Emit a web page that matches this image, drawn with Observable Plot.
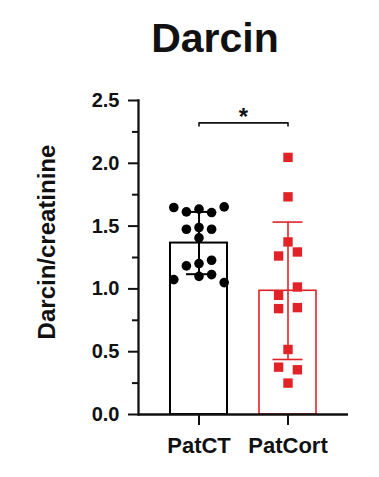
<!DOCTYPE html>
<html><head><meta charset="utf-8">
<script src="https://cdn.jsdelivr.net/npm/d3@7"></script>
<script src="https://cdn.jsdelivr.net/npm/@observablehq/plot@0.6"></script>
<style>
body{margin:0;background:#fff;font-family:"Liberation Sans",Arial,sans-serif;}
#title{height:52px;padding:18px 0 0 51px;font-size:41px;line-height:41px;font-weight:bold;text-align:center;color:#111;}
</style></head><body>
<div id="title">Darcin</div>
<div id="chart"></div>
<script>
// ---- data ----
const groups = ["PatCT", "PatCort"];
const barMeans = [1.365, 0.985];
const barSDs = [0.248, 0.547];
const patCTValues = [1.648, 1.613, 1.635, 1.608, 1.653, 1.475, 1.489, 1.475, 1.406,
                     1.183, 1.202, 1.228, 1.074, 1.100, 1.114, 1.050];
const patCTColumns = [-2, -1, 0, 1, 2, -1, 0, 1, 0, -1, 0, 1, -2, 0, 1, 2];
const patCortValues = [2.047, 1.733, 1.374, 1.262, 1.294, 1.015, 0.949, 0.843, 0.851,
                       0.518, 0.377, 0.356, 0.250];
const patCortColumns = [0, 0, 0, -1, 1, 1, -1, -1, 1, 0, -1, 1, 0];
const yTicks = [0, 0.5, 1, 1.5, 2, 2.5];
const yMinorTicks = [0.25, 0.75, 1.25, 1.75, 2.25];
const yLabel = "Darcin/creatinine";
const sigLabel = "*";
const bracketY = 2.322;
const bracketDrop = 0.025;

// ---- build tables ----
const summary = groups.map((g, i) => ({group: g, mean: barMeans[i], sd: barSDs[i]}));
const points = [
  ...patCTValues.map((v, i) => ({group: "PatCT", value: v, column: patCTColumns[i]})),
  ...patCortValues.map((v, i) => ({group: "PatCort", value: v, column: patCortColumns[i]}))
];
const look = {
  PatCT:   {color: "#000000", symbol: "circle", r: 4.8, spacing: 12.6, sw: 2.0, capInset: 16},
  PatCort: {color: "#e12328", symbol: "square", r: 5.3, spacing: 9.4, sw: 1.6, capInset: 13.5}
};

const marks = [
  Plot.axisY(yMinorTicks, {tickSize: 6, tickFormat: () => "", strokeWidth: 2, label: null}),
  Plot.axisY(yTicks, {tickSize: 10, tickPadding: 9, tickFormat: d3.format(".1f"), fontSize: 20, strokeWidth: 2, label: null}),
  Plot.axisX({tickSize: 11, tickPadding: 12, fontSize: 22, strokeWidth: 2, label: null}),
  Plot.frame({anchor: "left", strokeWidth: 2.3})
];
for (const g of groups) {
  const L = look[g];
  const s = summary.filter(d => d.group === g);
  marks.push(Plot.barY(s, {x: "group", y: "mean", fill: "white", stroke: L.color, strokeWidth: L.sw}));
  const cols = Array.from(new Set(points.filter(d => d.group === g).map(d => d.column)));
  for (const c of cols) {
    marks.push(Plot.dot(points.filter(d => d.group === g && d.column === c), {
      x: "group", y: "value", dx: c * L.spacing, r: L.r, symbol: L.symbol, fill: L.color, stroke: "none"
    }));
  }
  marks.push(Plot.ruleX(s, {x: "group", y1: d => d.mean - d.sd, y2: d => d.mean + d.sd, stroke: L.color, strokeWidth: L.sw}));
  marks.push(Plot.tickY(s, {x: "group", y: d => d.mean + d.sd, insetLeft: L.capInset, insetRight: L.capInset, stroke: L.color, strokeWidth: L.sw}));
  marks.push(Plot.tickY(s, {x: "group", y: d => d.mean - d.sd, insetLeft: L.capInset, insetRight: L.capInset, stroke: L.color, strokeWidth: L.sw}));
}
marks.push(Plot.ruleY([0], {strokeWidth: 2.3}));
const bracket = [
  {x: groups[0], y: bracketY - bracketDrop},
  {x: groups[0], y: bracketY},
  {x: groups[1], y: bracketY},
  {x: groups[1], y: bracketY - bracketDrop}
];
marks.push(Plot.line(bracket, {x: "x", y: "y", stroke: "#111", strokeWidth: 1.6}));
marks.push(Plot.text([sigLabel], {text: d => d, y: () => bracketY, frameAnchor: "middle", dy: -6, fontSize: 24, fontWeight: "bold", fill: "#111"}));
marks.push(Plot.text([yLabel], {text: d => d, frameAnchor: "left", textAnchor: "middle", lineAnchor: "middle", rotate: -90, dx: -91.5, dy: -15.5, fontSize: 24, fontWeight: "bold", fill: "#111"}));

const chart = Plot.plot({
  width: 379,
  height: 407,
  marginTop: 30,
  marginBottom: 63,
  marginLeft: 138,
  marginRight: 31,
  style: {fontFamily: '"Liberation Sans", Arial, sans-serif', fontWeight: "bold", color: "#111", background: "white"},
  x: {domain: groups, paddingInner: 0.356, paddingOuter: 0.345},
  y: {domain: [0, 2.5]},
  marks
});
document.getElementById("chart").appendChild(chart);
</script>
</body></html>
